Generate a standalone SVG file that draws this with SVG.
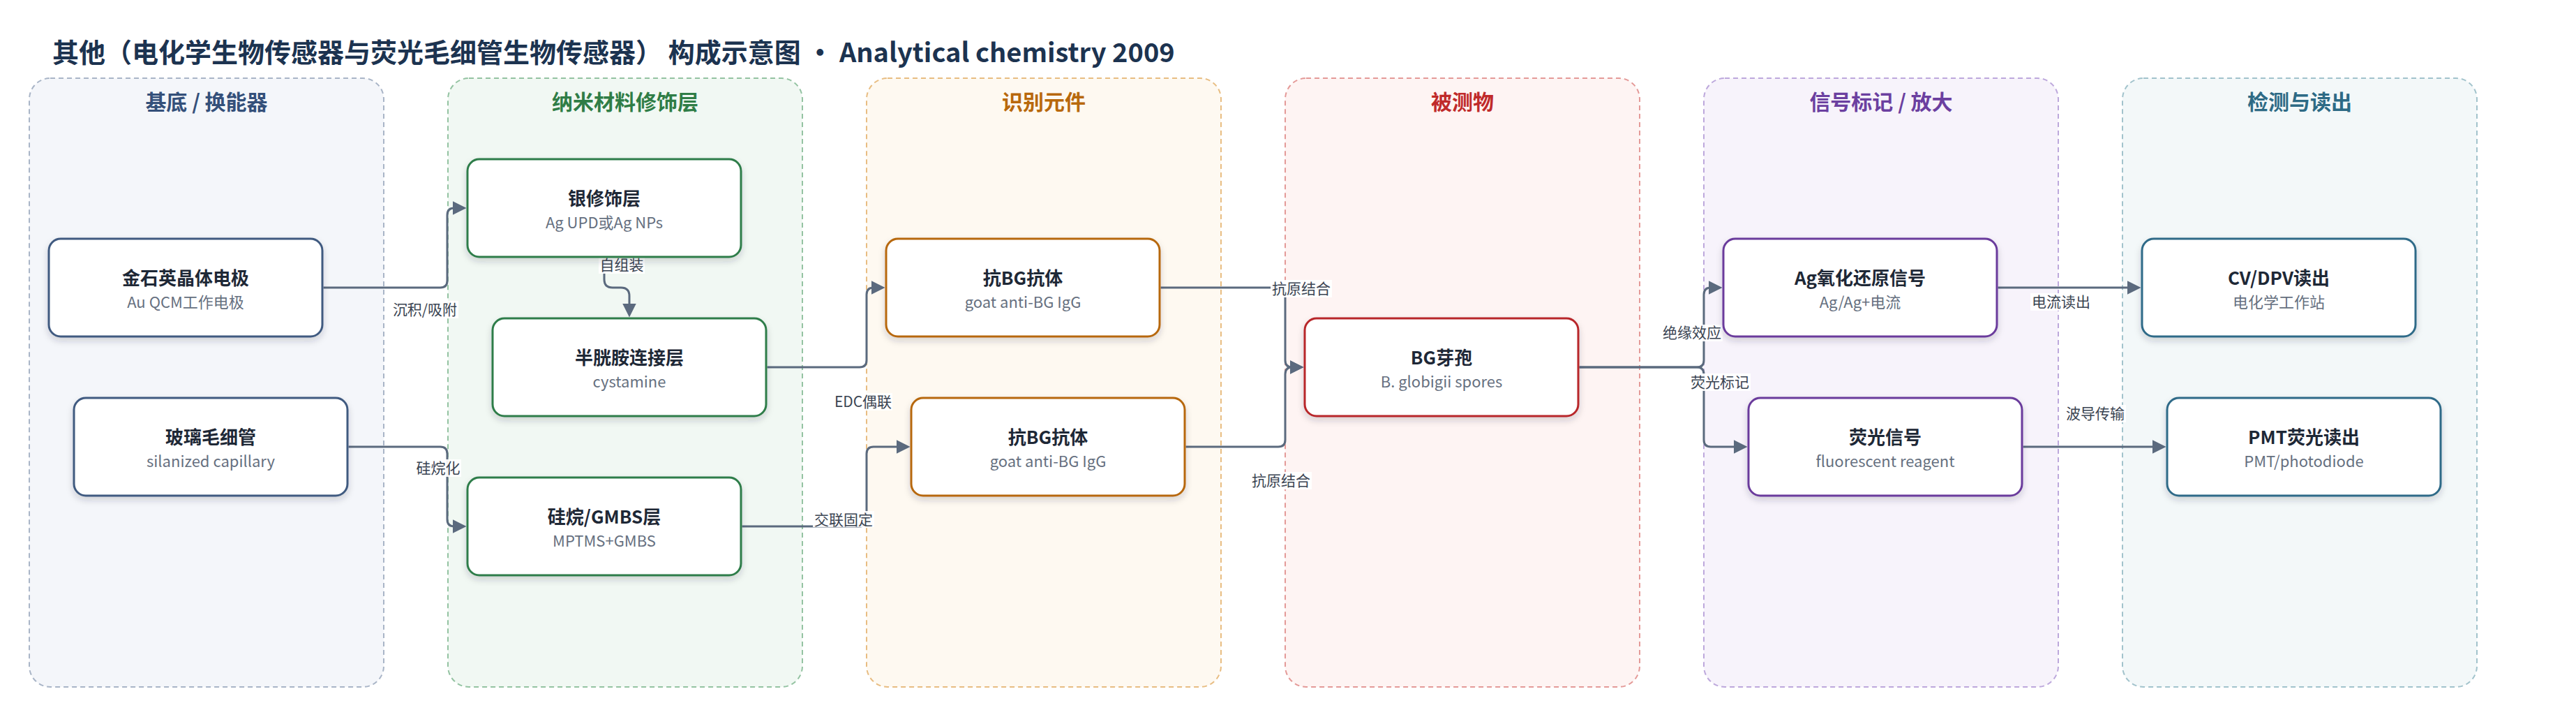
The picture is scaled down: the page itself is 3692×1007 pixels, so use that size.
<svg xmlns="http://www.w3.org/2000/svg" width="3692" height="1007" viewBox="0 0 3692 1007">
<defs>
<filter id="shadow" x="-10%" y="-10%" width="120%" height="140%">
<feDropShadow dx="0" dy="5" stdDeviation="5" flood-color="#1e293b" flood-opacity="0.18"/>
</filter>
<marker id="arrow" markerUnits="userSpaceOnUse" markerWidth="20" markerHeight="20" viewBox="0 0 20 20" refX="12" refY="10" orient="auto">
<path d="M0,0 L20,10 L0,20 z" fill="#5b6a7e"/>
</marker>
<style>
text{font-family:"Noto Sans CJK SC","Noto Sans",sans-serif;}
.title{font-size:38px;font-weight:700;fill:#1c3350;}
.lane{stroke-width:2;stroke-dasharray:7 5;}
.lh{font-size:30px;font-weight:700;text-anchor:middle;}
.node{fill:#ffffff;stroke-width:3;filter:url(#shadow);}
.nt{font-size:26px;font-weight:700;fill:#1e2836;text-anchor:middle;}
.ns{font-size:22px;fill:#667080;text-anchor:middle;}
.edge{fill:none;stroke:#5b6a7e;stroke-width:3;marker-end:url(#arrow);}
.lbg{fill:#ffffff;fill-opacity:0.92;}
.lt{font-size:21px;fill:#3a4452;text-anchor:middle;}
</style>
</defs>
<rect width="3692" height="1007" fill="#ffffff"/>
<text class="title" x="75" y="89">其他（电化学生物传感器与荧光毛细管生物传感器） 构成示意图 • Analytical chemistry 2009</text>

<g id="lanes">
<g id="lane-substrate">
<rect class="lane" x="42" y="112" width="508" height="872" rx="30" fill="#f4f6fa" stroke="#a9b5c7"/>
<text class="lh" x="296" y="157" fill="#34507a">基底 / 换能器</text>
</g>
<g id="lane-nano">
<rect class="lane" x="642" y="112" width="508" height="872" rx="30" fill="#f1f8f3" stroke="#94c3a2"/>
<text class="lh" x="896" y="157" fill="#2f7d46">纳米材料修饰层</text>
</g>
<g id="lane-recog">
<rect class="lane" x="1242" y="112" width="508" height="872" rx="30" fill="#fef9f1" stroke="#e8bd82"/>
<text class="lh" x="1496" y="157" fill="#b8680c">识别元件</text>
</g>
<g id="lane-analyte">
<rect class="lane" x="1842" y="112" width="508" height="872" rx="30" fill="#fef4f3" stroke="#e49a98"/>
<text class="lh" x="2096" y="157" fill="#c02a2a">被测物</text>
</g>
<g id="lane-signal">
<rect class="lane" x="2442" y="112" width="508" height="872" rx="30" fill="#f7f3fb" stroke="#bda8dc"/>
<text class="lh" x="2696" y="157" fill="#6b3fa0">信号标记 / 放大</text>
</g>
<g id="lane-readout">
<rect class="lane" x="3042" y="112" width="508" height="872" rx="30" fill="#f3f8f9" stroke="#a2c3cc"/>
<text class="lh" x="3296" y="157" fill="#2d6a85">检测与读出</text>
</g>
</g>

<g id="connectors">
<path class="edge" d="M463.5,412 H631 Q641,412 641,402 V308 Q641,298 651,298 H660.5"/>
<path class="edge" d="M499.5,640 H631 Q641,640 641,650 V744 Q641,754 651,754 H660.5"/>
<path class="edge" d="M866,369.5 V400 Q866,412 878,412 H890 Q902,412 902,424 V446.5"/>
<path class="edge" d="M1099.5,526 H1232 Q1242,526 1242,516 V422 Q1242,412 1252,412 H1260.5"/>
<path class="edge" d="M1063.5,754 H1232 Q1242,754 1242,744 V650 Q1242,640 1252,640 H1296.5"/>
<path class="edge" d="M1663.5,412 H1832 Q1842,412 1842,422 V516 Q1842,526 1852,526 H1860.5"/>
<path class="edge" d="M1699.5,640 H1832 Q1842,640 1842,630 V536 Q1842,526 1852,526 H1860.5"/>
<path class="edge" d="M2263.5,526 H2432 Q2442,526 2442,516 V422 Q2442,412 2452,412 H2460.5"/>
<path class="edge" d="M2263.5,526 H2432 Q2442,526 2442,536 V630 Q2442,640 2452,640 H2496.5"/>
<path class="edge" d="M2863.5,412 H3060.5"/>
<path class="edge" d="M2899.5,640 H3096.5"/>
<g id="edge-labels">
<rect class="lbg" x="561" y="431" width="96" height="25"/>
<text class="lt" x="609" y="451">沉积/吸附</text>
<rect class="lbg" x="595" y="658" width="66" height="25"/>
<text class="lt" x="628" y="678">硅烷化</text>
<rect class="lbg" x="858" y="367" width="66" height="25"/>
<text class="lt" x="891" y="387">自组装</text>
<rect class="lbg" x="1195" y="563" width="84" height="25"/>
<text class="lt" x="1237" y="583">EDC偶联</text>
<rect class="lbg" x="1165" y="732" width="88" height="23"/>
<text class="lt" x="1209" y="752">交联固定</text>
<rect class="lbg" x="1821" y="401" width="88" height="25"/>
<text class="lt" x="1865" y="421">抗原结合</text>
<rect class="lbg" x="1792" y="676" width="88" height="25"/>
<text class="lt" x="1836" y="696">抗原结合</text>
<rect class="lbg" x="2381" y="465" width="88" height="24"/>
<text class="lt" x="2425" y="484">绝缘效应</text>
<rect class="lbg" x="2421" y="535" width="88" height="25"/>
<text class="lt" x="2465" y="555">荧光标记</text>
<rect class="lbg" x="2910" y="420" width="88" height="25"/>
<text class="lt" x="2954" y="440">电流读出</text>
<rect class="lbg" x="2959" y="580" width="88" height="25"/>
<text class="lt" x="3003" y="600">波导传输</text>
</g>
</g>

<g id="nodes">
<g id="n-au">
<rect class="node" x="70" y="342" width="392" height="140" rx="17" stroke="#3f5a80"/>
<text class="nt" x="266" y="408">金石英晶体电极</text>
<text class="ns" x="266" y="441">Au QCM工作电极</text>
</g>
<g id="n-glass">
<rect class="node" x="106" y="570" width="392" height="140" rx="17" stroke="#3f5a80"/>
<text class="nt" x="302" y="636">玻璃毛细管</text>
<text class="ns" x="302" y="669">silanized capillary</text>
</g>
<g id="n-ag">
<rect class="node" x="670" y="228" width="392" height="140" rx="17" stroke="#2e7d4a"/>
<text class="nt" x="866" y="294">银修饰层</text>
<text class="ns" x="866" y="327">Ag UPD或Ag NPs</text>
</g>
<g id="n-cys">
<rect class="node" x="706" y="456" width="392" height="140" rx="17" stroke="#2e7d4a"/>
<text class="nt" x="902" y="522">半胱胺连接层</text>
<text class="ns" x="902" y="555">cystamine</text>
</g>
<g id="n-silane">
<rect class="node" x="670" y="684" width="392" height="140" rx="17" stroke="#2e7d4a"/>
<text class="nt" x="866" y="750">硅烷/GMBS层</text>
<text class="ns" x="866" y="783">MPTMS+GMBS</text>
</g>
<g id="n-ab1">
<rect class="node" x="1270" y="342" width="392" height="140" rx="17" stroke="#b7680e"/>
<text class="nt" x="1466" y="408">抗BG抗体</text>
<text class="ns" x="1466" y="441">goat anti-BG IgG</text>
</g>
<g id="n-ab2">
<rect class="node" x="1306" y="570" width="392" height="140" rx="17" stroke="#b7680e"/>
<text class="nt" x="1502" y="636">抗BG抗体</text>
<text class="ns" x="1502" y="669">goat anti-BG IgG</text>
</g>
<g id="n-spore">
<rect class="node" x="1870" y="456" width="392" height="140" rx="17" stroke="#b8282a"/>
<text class="nt" x="2066" y="522">BG芽孢</text>
<text class="ns" x="2066" y="555">B. globigii spores</text>
</g>
<g id="n-redox">
<rect class="node" x="2470" y="342" width="392" height="140" rx="17" stroke="#6a3b9c"/>
<text class="nt" x="2666" y="408">Ag氧化还原信号</text>
<text class="ns" x="2666" y="441">Ag/Ag+电流</text>
</g>
<g id="n-fluor">
<rect class="node" x="2506" y="570" width="392" height="140" rx="17" stroke="#6a3b9c"/>
<text class="nt" x="2702" y="636">荧光信号</text>
<text class="ns" x="2702" y="669">fluorescent reagent</text>
</g>
<g id="n-cv">
<rect class="node" x="3070" y="342" width="392" height="140" rx="17" stroke="#2f6b88"/>
<text class="nt" x="3266" y="408">CV/DPV读出</text>
<text class="ns" x="3266" y="441">电化学工作站</text>
</g>
<g id="n-pmt">
<rect class="node" x="3106" y="570" width="392" height="140" rx="17" stroke="#2f6b88"/>
<text class="nt" x="3302" y="636">PMT荧光读出</text>
<text class="ns" x="3302" y="669">PMT/photodiode</text>
</g>
</g>
</svg>
